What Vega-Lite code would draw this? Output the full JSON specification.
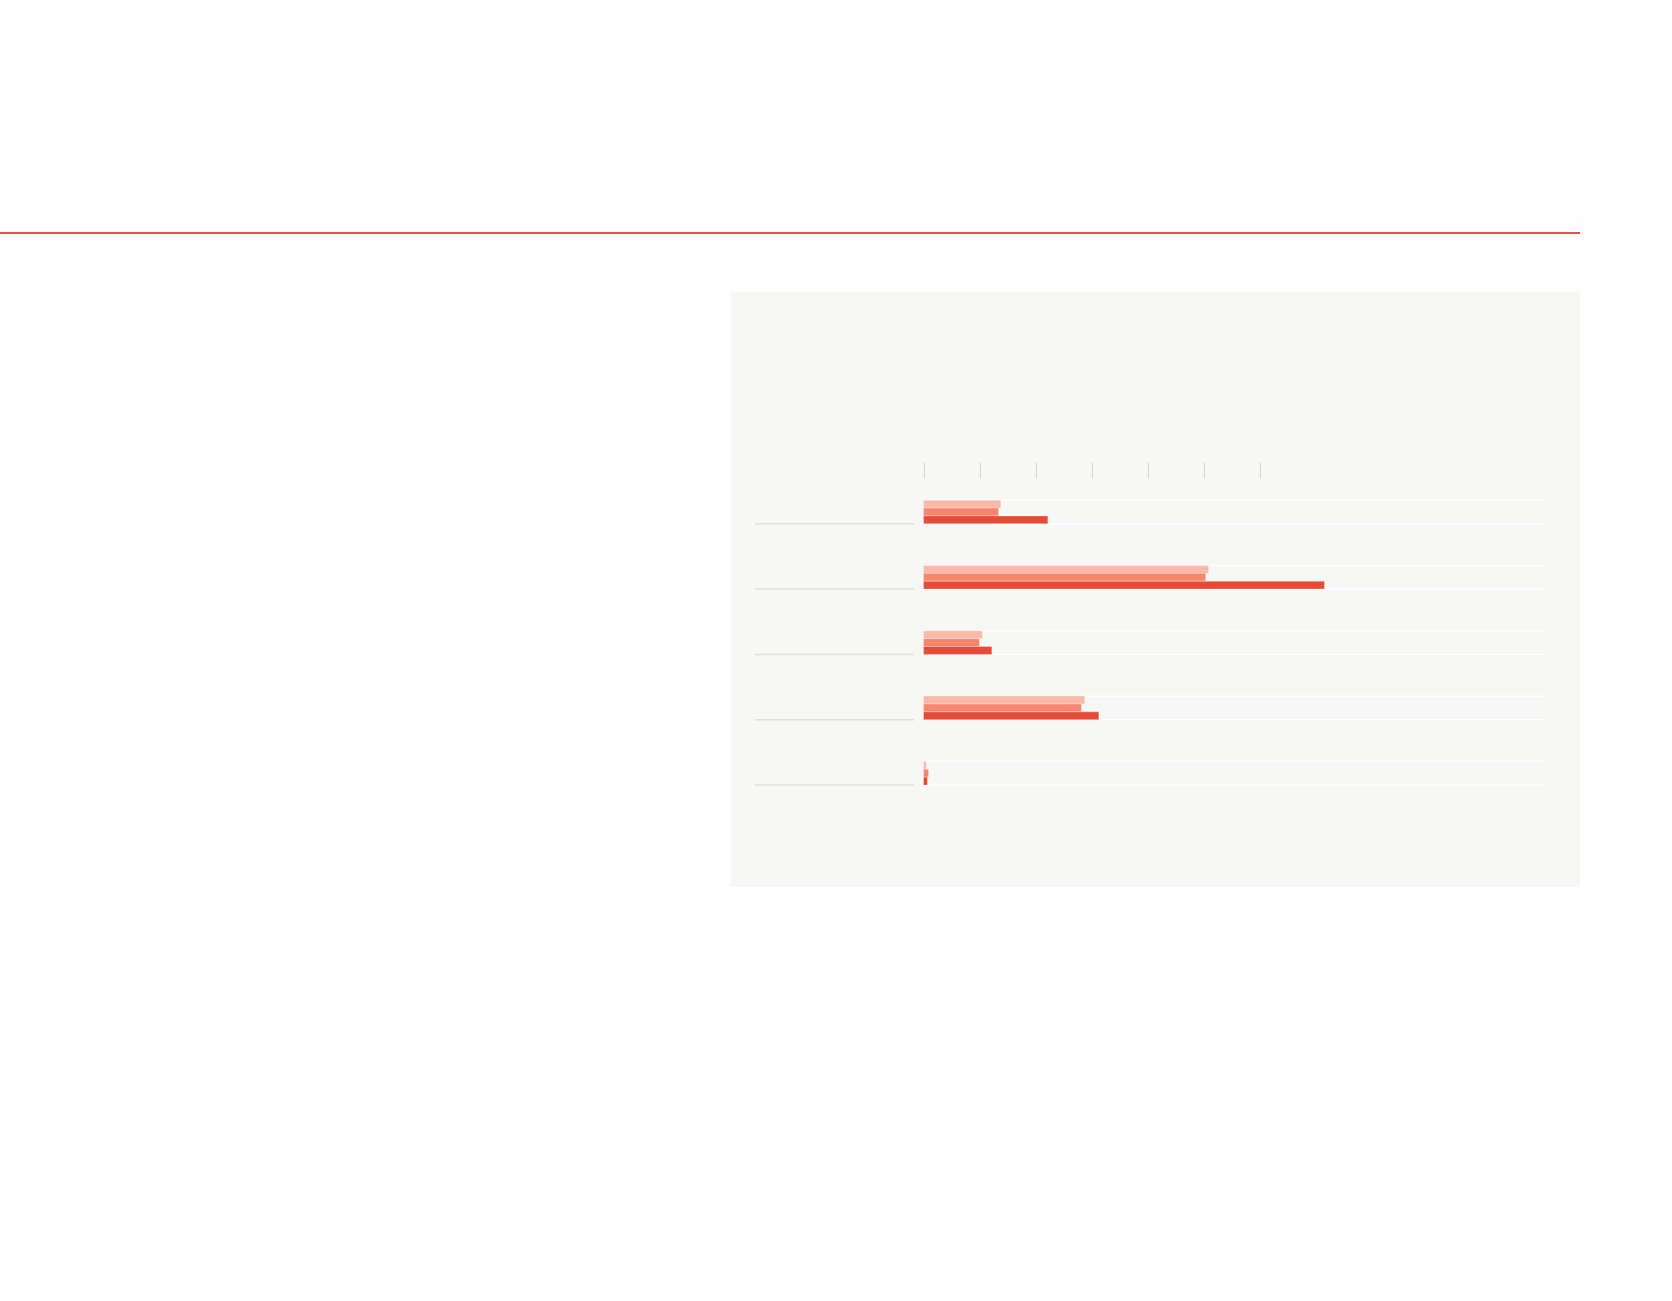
{
  "$schema": "https://vega.github.io/schema/vega-lite/v6.json",
  "background": "#fefefe",
  "padding": {"left": 0, "top": 230, "right": 0, "bottom": 0},
  "config": {"view": {"stroke": null}},
  "datasets": {
    "rows": [
      {"group": "Category 1"},
      {"group": "Category 2"},
      {"group": "Category 3"},
      {"group": "Category 4"},
      {"group": "Category 5"}
    ],
    "bars": [
      {"group": "Category 1", "series": "Series A", "value": 13.8},
      {"group": "Category 1", "series": "Series B", "value": 13.4},
      {"group": "Category 1", "series": "Series C", "value": 22.2},
      {"group": "Category 2", "series": "Series A", "value": 50.9},
      {"group": "Category 2", "series": "Series B", "value": 50.4},
      {"group": "Category 2", "series": "Series C", "value": 71.6},
      {"group": "Category 3", "series": "Series A", "value": 10.5},
      {"group": "Category 3", "series": "Series B", "value": 10.0},
      {"group": "Category 3", "series": "Series C", "value": 12.2},
      {"group": "Category 4", "series": "Series A", "value": 28.8},
      {"group": "Category 4", "series": "Series B", "value": 28.2},
      {"group": "Category 4", "series": "Series C", "value": 31.3},
      {"group": "Category 5", "series": "Series A", "value": 0.5},
      {"group": "Category 5", "series": "Series B", "value": 0.9},
      {"group": "Category 5", "series": "Series C", "value": 0.7}
    ]
  },
  "spacing": 56,
  "vconcat": [
    {
      "width": 1580,
      "height": 2,
      "view": {"fill": "#e9503d"},
      "data": {"values": [{}]},
      "mark": {"type": "point", "opacity": 0}
    },
    {
      "spacing": 0,
      "hconcat": [
        {
          "width": 731,
          "height": 595,
          "data": {"values": [{}]},
          "mark": {"type": "point", "opacity": 0}
        },
        {
          "width": 849,
          "height": 595,
          "view": {"fill": "#f7f7f5"},
          "layer": [
            {
              "data": {"name": "rows"},
              "mark": {"type": "rule", "color": "#ffffff", "strokeWidth": 1.2},
              "encoding": {
                "y": {
                  "field": "group",
                  "type": "nominal",
                  "sort": null,
                  "bandPosition": 0,
                  "axis": null,
                  "scale": {"range": [208.2, 493], "paddingInner": 0.639, "paddingOuter": 0}
                },
                "x": {
                  "datum": 0,
                  "type": "quantitative",
                  "scale": {"domain": [-34.375, 117.23], "nice": false, "zero": false},
                  "axis": {
                    "orient": "top",
                    "values": [0, 10, 20, 30, 40, 50, 60],
                    "offset": -185.7,
                    "tickSize": 16,
                    "tickColor": "#d6d6d2",
                    "tickWidth": 1,
                    "domain": false,
                    "labels": false,
                    "grid": false,
                    "title": null
                  }
                },
                "x2": {"datum": 110.8}
              }
            },
            {
              "data": {"name": "rows"},
              "mark": {"type": "rule", "color": "#ffffff", "strokeWidth": 1.2},
              "encoding": {
                "y": {"field": "group", "type": "nominal", "sort": null, "bandPosition": 1},
                "x": {"datum": 0, "type": "quantitative"},
                "x2": {"datum": 110.8}
              }
            },
            {
              "data": {"name": "rows"},
              "mark": {"type": "rule", "color": "#e0e0dc", "strokeWidth": 1.5},
              "encoding": {
                "y": {"field": "group", "type": "nominal", "sort": null, "bandPosition": 1},
                "x": {"datum": -30.1, "type": "quantitative"},
                "x2": {"datum": -1.7}
              }
            },
            {
              "data": {"name": "bars"},
              "mark": {"type": "bar", "stroke": "#ffffff", "strokeWidth": 0.6, "strokeOpacity": 0.5},
              "encoding": {
                "y": {"field": "group", "type": "nominal", "sort": null},
                "yOffset": {
                  "field": "series",
                  "type": "nominal",
                  "sort": ["Series A", "Series B", "Series C"],
                  "scale": {"paddingInner": 0, "paddingOuter": 0}
                },
                "x": {"field": "value", "type": "quantitative"},
                "x2": {"datum": 0},
                "color": {
                  "field": "series",
                  "type": "nominal",
                  "scale": {
                    "domain": ["Series A", "Series B", "Series C"],
                    "range": ["#fdb8a7", "#f6866e", "#e64b37"]
                  },
                  "legend": null
                }
              }
            }
          ]
        }
      ]
    }
  ]
}
